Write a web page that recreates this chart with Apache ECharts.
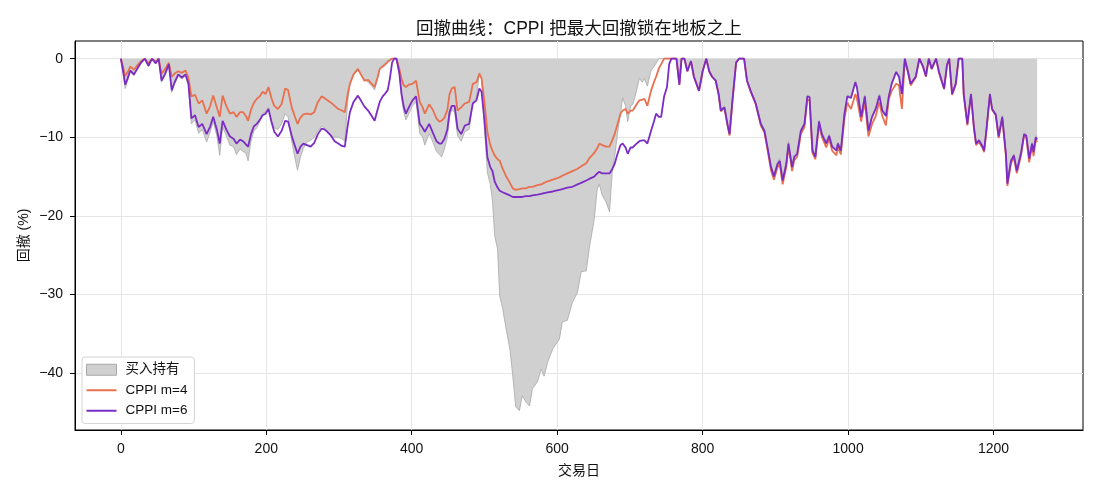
<!DOCTYPE html>
<html>
<head>
<meta charset="utf-8">
<script src="https://cdn.jsdelivr.net/npm/echarts@6/dist/echarts.min.js"></script>
<style>
  html, body { margin: 0; padding: 0; background: #fff; }
  #main { width: 1100px; height: 495px; }
</style>
</head>
<body>
<div id="main"></div>
<script>
// 交易日（横轴）
var days = [0,3,6,9,13,18,23,28,33,38,
  43,48,52,56,61,66,70,74,79,84,
  89,93,97,102,107,112,118,123,127,132,
  136,140,145,150,155,159,164,168,172,175,
  179,183,187,191,195,199,203,207,211,216,
  221,226,230,235,239,243,247,251,256,261,
  266,271,276,280,284,289,294,299,304,308,
  312,315,320,326,330,335,340,345,349,353,
  356,360,363,367,370,373,376,379,383,386,
  389,392,396,401,406,411,415,418,424,429,
  434,438,441,445,449,452,455,459,463,468,
  473,479,484,489,493,496,500,504,508,511,
  514,518,521,525,530,535,539,543,548,552,
  557,562,566,573,578,582,587,594,603,607,
  614,621,628,633,640,644,651,655,658,662,
  667,672,676,679,683,687,690,694,697,701,
  704,708,713,717,720,724,729,733,736,740,
  743,747,751,754,757,764,768,771,775,779,
  784,788,795,800,805,809,813,818,822,825,
  830,834,837,841,846,850,857,861,866,873,
  880,885,889,894,898,903,906,910,915,918,
  923,926,930,935,940,944,947,951,955,960,
  964,970,974,978,984,986,990,995,999,1004,
  1010,1012,1018,1023,1028,1033,1038,1043,1047,1052,
  1056,1060,1066,1070,1074,1078,1082,1086,1093,1098,
  1103,1107,1111,1115,1121,1125,1132,1136,1139,1143,
  1148,1152,1157,1159,1164,1169,1173,1176,1180,1185,
  1187,1190,1195,1198,1203,1207,1212,1217,1219,1224,
  1228,1232,1238,1242,1245,1249,1253,1255,1258,1260];

// 买入持有 回撤 (%)
var buyHold = [0,-1.8,-3.8,-2.9,-1.7,-2.2,-1.4,-0.5,0,-1.0,
  0,-0.6,0,-3.0,-2.1,-0.8,-4.3,-3.2,-2.2,-2.6,
  -2.2,-3.5,-8.3,-7.8,-9.5,-9.0,-10.6,-9.3,-8.0,-9.8,
  -12.3,-8.7,-9.8,-11.0,-11.2,-12.2,-11.5,-11.8,-12.0,-13.0,
  -10.5,-9.2,-8.8,-8.0,-7.0,-6.8,-6.2,-7.8,-8.8,-9.0,
  -8.3,-7.0,-7.4,-10.5,-12.5,-14.2,-12.5,-11.4,-10.6,-10.4,
  -10.0,-9.2,-8.6,-8.8,-9.3,-9.8,-10.0,-10.0,-10.2,-10.5,
  -5.5,-3.2,-2.0,-1.5,-2.0,-2.6,-3.0,-3.5,-4.0,-2.5,
  -1.2,-0.8,-0.6,-0.3,0,0,0,0,-2.0,-5.0,
  -6.8,-7.8,-7.0,-6.0,-5.5,-9.5,-10.0,-11.0,-9.5,-10.6,
  -11.8,-12.2,-12.5,-11.5,-10.0,-7.5,-6.5,-6.8,-9.8,-10.5,
  -9.3,-9.0,-5.5,-5.0,-1.8,-2.5,-9.0,-14.5,-16.0,-18.0,
  -22.5,-24.2,-30.2,-31.8,-34.5,-37.0,-40.4,-44.3,-44.8,-42.9,
  -43.7,-44.2,-42.0,-41.1,-39.5,-40.4,-38.6,-36.9,-35.7,-33.5,
  -33.3,-31.0,-29.7,-27.1,-27.0,-24.2,-20.4,-16.6,-16.0,-17.4,
  -18.2,-19.5,-14.0,-12.5,-9.5,-7.0,-5.0,-6.0,-8.0,-6.0,
  -5.8,-4.5,-2.5,-3.0,-2.5,-3.5,-1.5,-1.0,-0.6,0,
  0,0,0,0,0,0,-3.0,0,0,-1.5,
  -0.3,-2.2,-4.0,-1.5,0,-1.5,-2.2,-2.7,-4.4,-6.4,
  -6.0,-8.1,-9.4,-5.2,-0.5,0,0,-2.7,-4.0,-5.5,
  -8.1,-9.0,-11.0,-13.5,-14.7,-13.1,-12.7,-15.2,-13.1,-10.5,
  -13.5,-12.2,-11.8,-9.0,-8.1,-4.6,-4.7,-11.4,-12.2,-7.8,
  -9.4,-10.6,-9.6,-11.0,-11.5,-10.6,-11.5,-6.8,-4.6,-4.8,
  -2.8,-3.4,-7.2,-4.6,-9.0,-7.2,-6.2,-4.5,-6.4,-7.1,
  -4.6,-3.0,-1.6,-2.2,-4.3,0,-1.4,-3.1,-2.2,0,
  -0.9,-2.1,0,-1.2,0,-1.6,-3.7,-0.7,0,-4.4,
  -3.1,0,0,-4.4,-8.1,-4.4,-8.5,-10.6,-10.2,-11.0,
  -11.5,-9.0,-4.4,-6.3,-7.0,-9.7,-7.2,-11.9,-15.6,-12.8,
  -12.1,-14.1,-11.7,-9.4,-9.6,-12.5,-10.6,-11.7,-9.8,-10.1];

// CPPI m=4 回撤 (%)
var cppiM4 = [0,-1.0,-2.2,-1.8,-1.0,-1.4,-0.8,-0.3,0,-0.6,
  0,-0.4,0,-1.9,-1.3,-0.5,-2.3,-1.9,-1.6,-1.8,
  -1.5,-2.4,-4.8,-4.6,-5.7,-5.3,-7.0,-6.0,-4.7,-6.2,
  -7.4,-4.7,-6.0,-7.0,-6.8,-7.4,-6.8,-6.8,-7.3,-7.9,
  -6.5,-5.6,-5.1,-4.8,-4.2,-4.5,-3.6,-5.0,-6.0,-6.4,
  -5.8,-3.8,-4.0,-6.2,-7.3,-8.3,-7.5,-7.1,-7.0,-7.1,
  -6.8,-5.5,-4.8,-5.0,-5.3,-5.6,-6.0,-6.4,-6.6,-6.8,
  -4.5,-3.2,-2.0,-1.3,-2.0,-2.8,-2.7,-3.2,-3.6,-2.4,
  -1.3,-1.0,-0.8,-0.4,-0.2,0,0,0,-1.3,-2.6,
  -3.4,-3.6,-3.3,-3.2,-2.8,-5.5,-6.2,-7.0,-5.8,-6.5,
  -7.6,-8.0,-7.9,-7.5,-6.5,-4.5,-3.8,-3.6,-6.6,-6.2,
  -5.7,-5.5,-3.2,-3.0,-1.9,-2.5,-5.5,-9.3,-11.0,-11.7,
  -12.3,-12.8,-13.0,-14.0,-15.0,-15.8,-16.5,-16.7,-16.6,-16.5,
  -16.5,-16.3,-16.3,-16.1,-16.0,-15.8,-15.6,-15.4,-15.1,-14.9,
  -14.6,-14.3,-14.0,-13.7,-13.3,-12.7,-12.0,-11.4,-10.8,-11.0,
  -11.2,-11.2,-10.3,-9.6,-8.3,-7.0,-6.6,-6.4,-7.0,-6.6,
  -6.6,-6.0,-5.3,-5.2,-5.1,-6.0,-4.1,-3.0,-2.3,-1.2,
  -0.7,0,0,0,0,0,-3.3,0,0,-1.6,
  -0.3,-2.3,-4.1,-1.6,0,-1.6,-2.3,-2.8,-4.6,-6.7,
  -6.3,-8.4,-9.8,-5.4,-0.5,0,0,-2.8,-4.2,-5.8,
  -8.5,-9.4,-11.5,-14.2,-15.4,-13.8,-13.4,-16.0,-13.8,-11.2,
  -14.3,-12.9,-12.5,-9.6,-8.7,-5.2,-5.3,-12.0,-12.8,-8.4,
  -10.0,-11.3,-10.2,-11.7,-12.3,-11.2,-12.2,-7.6,-5.6,-6.4,
  -4.5,-5.0,-8.0,-5.5,-9.9,-8.3,-7.3,-5.5,-7.3,-8.5,
  -5.1,-4.1,-3.2,-3.4,-6.4,-0.3,-1.6,-3.4,-2.4,0,
  -1.0,-2.3,0,-1.3,0,-1.8,-3.9,-0.8,0,-4.6,
  -3.3,0,0,-4.6,-8.5,-4.6,-8.9,-11.0,-10.6,-11.4,
  -11.9,-9.4,-4.6,-6.5,-7.2,-10.1,-7.6,-12.4,-16.2,-13.3,
  -12.6,-14.6,-12.2,-9.8,-10.0,-13.2,-11.1,-12.4,-10.3,-10.6];

// CPPI m=6 回撤 (%)
var cppiM6 = [0,-1.5,-3.3,-2.6,-1.5,-2.0,-1.2,-0.5,0,-0.9,
  0,-0.6,0,-2.8,-1.9,-0.7,-4.0,-3.0,-2.0,-2.4,
  -2.0,-3.2,-7.6,-7.2,-8.7,-8.3,-9.6,-8.6,-7.4,-9.0,
  -10.8,-7.9,-9.0,-9.9,-10.2,-10.8,-10.3,-10.5,-10.9,-11.2,
  -9.6,-8.6,-8.3,-7.8,-7.2,-7.0,-6.4,-8.0,-9.3,-9.9,
  -9.2,-7.9,-8.0,-9.8,-11.0,-12.1,-11.2,-10.8,-11.0,-11.2,
  -10.7,-9.6,-8.9,-9.0,-9.3,-9.8,-10.5,-10.8,-11.1,-11.2,
  -8.5,-6.8,-5.5,-4.7,-5.3,-6.1,-6.6,-7.3,-7.9,-6.5,
  -5.5,-4.8,-4.5,-4.0,-2.5,-0.5,0,0,-1.9,-4.5,
  -6.1,-7.0,-6.2,-5.3,-4.8,-8.3,-8.8,-9.3,-8.3,-9.4,
  -10.5,-10.8,-10.8,-10.2,-9.0,-6.8,-6.0,-6.0,-8.9,-9.6,
  -8.5,-8.3,-5.7,-5.3,-3.8,-4.2,-7.9,-12.5,-13.8,-14.3,
  -15.6,-16.4,-16.8,-17.0,-17.2,-17.4,-17.6,-17.6,-17.6,-17.6,
  -17.5,-17.5,-17.4,-17.3,-17.2,-17.1,-17.0,-16.9,-16.7,-16.6,
  -16.4,-16.3,-16.0,-15.8,-15.5,-15.3,-15.0,-14.6,-14.4,-14.6,
  -14.6,-14.6,-14.0,-13.4,-12.1,-11.0,-10.8,-11.3,-12.1,-11.3,
  -11.3,-10.9,-10.5,-10.4,-10.4,-10.8,-9.2,-8.0,-7.0,-7.4,
  -7.4,-4.8,-3.6,-0.7,0,0,-3.3,0,0,-1.6,
  -0.3,-2.3,-4.1,-1.6,0,-1.6,-2.3,-2.8,-4.5,-6.6,
  -6.2,-8.3,-9.6,-5.3,-0.5,0,0,-2.8,-4.1,-5.7,
  -8.3,-9.2,-11.2,-13.8,-15.0,-13.4,-13.0,-15.5,-13.4,-10.8,
  -13.8,-12.5,-12.1,-9.2,-8.3,-4.8,-4.9,-11.7,-12.5,-8.0,
  -9.6,-10.8,-9.8,-11.2,-11.7,-10.8,-11.7,-7.0,-4.8,-5.0,
  -3.0,-3.6,-7.4,-4.8,-9.2,-7.4,-6.4,-4.7,-6.6,-7.3,
  -4.8,-3.2,-1.7,-2.3,-4.5,0,-1.5,-3.2,-2.3,0,
  -1.0,-2.2,0,-1.3,0,-1.7,-3.8,-0.8,0,-4.5,
  -3.2,0,0,-4.5,-8.3,-4.5,-8.7,-10.8,-10.4,-11.2,
  -11.7,-9.2,-4.5,-6.4,-7.1,-9.9,-7.4,-12.1,-15.9,-13.0,
  -12.3,-14.3,-11.9,-9.6,-9.8,-12.7,-10.8,-11.9,-10.0,-10.3];

var xTicks = [0, 200, 400, 600, 800, 1000, 1200];
var yTicks = [-40, -30, -20, -10, 0];

function pairs(arr) {
    return days.map(function (d, i) { return [d, arr[i]]; });
}

var font = 'Liberation Sans, Noto Sans CJK SC, sans-serif';
// 图例里的线段图标（30x11 的框，中间一条 2px 的线）
var lineIcon = 'path://M0,0 M30,11 M0,4.5 L30,4.5 L30,6.5 L0,6.5 Z';

var myChart = echarts.init(document.getElementById('main'));

var option = {
    animation: false,
    textStyle: { fontFamily: font },
    title: {
        text: '回撤曲线：CPPI 把最大回撤锁在地板之上',
        left: 411,
        top: 15,
        textStyle: { fontSize: 17.5, fontWeight: 'normal', color: '#111', fontFamily: font }
    },
    grid: {
        left: 75, right: 17, top: 41, bottom: 65,
        show: true, borderColor: '#000', borderWidth: 1
    },
    legend: {
        orient: 'vertical',
        left: 82, top: 357,
        padding: [6, 7, 6, 4],
        itemWidth: 30, itemHeight: 11, itemGap: 7,
        borderColor: '#d5d5d5', borderWidth: 1, borderRadius: 3,
        backgroundColor: '#fff',
        textStyle: { fontSize: 13.5, color: '#111', fontFamily: font, padding: [0, 0, 0, 4] },
        data: [
            { name: '买入持有', icon: 'rect', itemStyle: { color: '#d0d0d0', borderColor: '#a8a8a8', borderWidth: 1 } },
            { name: 'CPPI m=4', icon: lineIcon, itemStyle: { color: '#e8704f', borderWidth: 0 } },
            { name: 'CPPI m=6', icon: lineIcon, itemStyle: { color: '#7b2cc4', borderWidth: 0 } }
        ]
    },
    xAxis: {
        type: 'value',
        min: -63, max: 1323,
        name: '交易日',
        nameLocation: 'middle',
        nameGap: 34,
        nameMoveOverlap: false,
        nameTextStyle: { fontSize: 14, color: '#111', fontFamily: font },
        axisLine: { show: true, onZero: false, lineStyle: { color: '#000' } },
        axisTick: { show: true, length: 5, customValues: xTicks, lineStyle: { color: '#000' } },
        axisLabel: {
            customValues: xTicks, fontSize: 14, color: '#111', margin: 12,
            formatter: function (v) { return String(v); }
        },
        splitLine: { show: true, lineStyle: { color: '#e6e6e6' } }
    },
    yAxis: {
        type: 'value',
        min: -47.25, max: 2.25,
        name: '回撤 (%)',
        nameLocation: 'middle',
        nameGap: 44,
        nameMoveOverlap: false,
        nameTextStyle: { fontSize: 14, color: '#111', fontFamily: font },
        axisLine: { show: true, onZero: false, lineStyle: { color: '#000' } },
        axisTick: { show: true, length: 5, customValues: yTicks, lineStyle: { color: '#000' } },
        axisLabel: {
            customValues: yTicks, fontSize: 14, color: '#111', margin: 12,
            formatter: function (v) { return String(v).replace('-', '\u2212'); }
        },
        splitLine: { show: true, lineStyle: { color: '#e6e6e6' } }
    },
    series: [
        {
            name: '买入持有',
            type: 'line',
            data: pairs(buyHold),
            symbol: 'none',
            color: '#a8a8a8',
            lineStyle: { width: 0.8, color: '#a8a8a8' },
            areaStyle: { color: '#d0d0d0', opacity: 1 },
            z: 1
        },
        {
            name: 'CPPI m=4',
            type: 'line',
            data: pairs(cppiM4),
            symbol: 'none',
            color: '#e8704f',
            lineStyle: { width: 1.8, color: '#e8704f' },
            z: 2
        },
        {
            name: 'CPPI m=6',
            type: 'line',
            data: pairs(cppiM6),
            symbol: 'none',
            color: '#7b2cc4',
            lineStyle: { width: 1.8, color: '#7b2cc4' },
            z: 3
        }
    ]
};
myChart.setOption(option);
</script>
</body>
</html>
